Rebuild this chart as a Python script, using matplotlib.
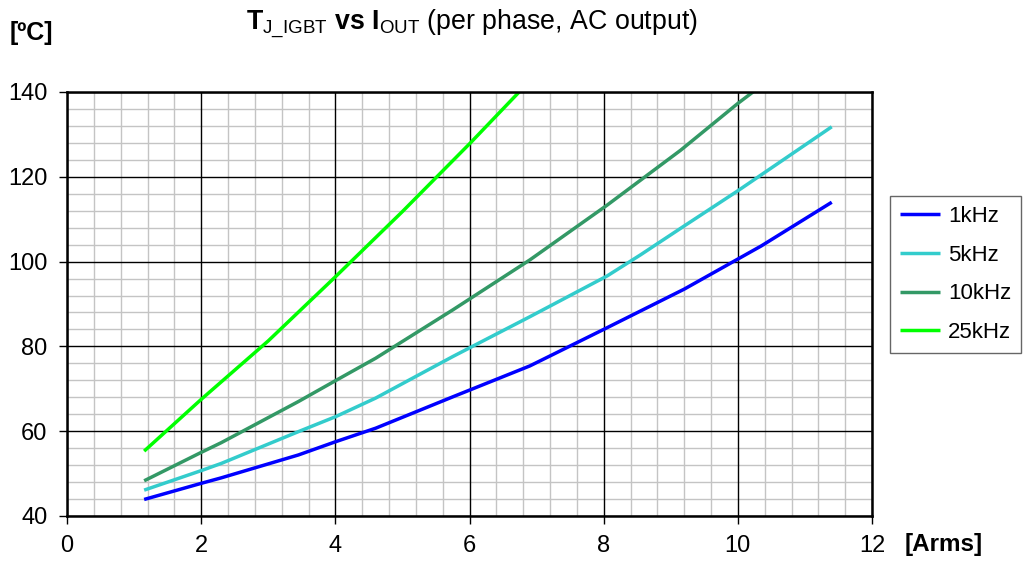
import matplotlib
matplotlib.use("Agg")
import matplotlib.pyplot as plt
from matplotlib.ticker import MultipleLocator

plt.rcParams['font.family'] = ['Liberation Sans', 'DejaVu Sans']
plt.rcParams['mathtext.fontset'] = 'custom'
plt.rcParams['mathtext.rm'] = 'Liberation Sans'
plt.rcParams['mathtext.bf'] = 'Liberation Sans:bold'
plt.rcParams['mathtext.it'] = 'Liberation Sans:italic'

# Data
i_1k = [1.15, 2.0, 2.3, 3.45, 4.0, 4.6, 5.75, 6.9, 8.05, 9.2, 10.35, 11.4]
t_1k = [43.9, 47.7, 49.0, 54.4, 57.5, 60.7, 68.1, 75.4, 84.4, 93.5, 103.7, 114.0]

i_5k = [1.15, 2.0, 2.3, 3.45, 4.0, 4.6, 5.75, 6.9, 8.05, 8.55, 9.2, 10.0, 11.4]
t_5k = [46.1, 50.7, 52.4, 59.9, 63.4, 67.8, 77.6, 87.0, 96.6, 101.6, 108.4, 116.7, 131.8]

i_10k = [1.15, 2.0, 2.3, 3.45, 4.0, 4.6, 5.75, 6.9, 8.05, 9.15, 10.0, 10.35]
t_10k = [48.3, 55.0, 57.3, 67.0, 71.9, 77.2, 88.6, 100.4, 113.3, 126.3, 137.3, 141.5]

i_25k = [1.15, 2.0, 3.0, 4.0, 5.0, 6.02, 6.74, 6.9]
t_25k = [55.3, 67.5, 81.3, 96.4, 111.8, 128.1, 140.0, 142.6]

series = [
    ("1kHz", i_1k, t_1k, "#0000FF"),
    ("5kHz", i_5k, t_5k, "#33CCCC"),
    ("10kHz", i_10k, t_10k, "#339966"),
    ("25kHz", i_25k, t_25k, "#00FF00"),
]

x_ticks = [0, 2, 4, 6, 8, 10, 12]
y_ticks = [40, 60, 80, 100, 120, 140]

fig = plt.figure(figsize=(10.24, 5.67), dpi=100)
ax = fig.add_axes([67/1024, 51/567, 805/1024, 424/567])

for label, xs, ys, c in series:
    ax.plot(xs, ys, color=c, lw=2.5, label=label, solid_capstyle='butt', zorder=3)

ax.set_xlim(0, 12)
ax.set_ylim(40, 140)
ax.set_xticks(x_ticks)
ax.set_yticks(y_ticks)
ax.xaxis.set_minor_locator(MultipleLocator(0.4))
ax.yaxis.set_minor_locator(MultipleLocator(4))
ax.set_axisbelow(True)
ax.grid(which='minor', color='#c4c4c4', lw=1.0)
# major grid drawn above the minor grid
for xv in x_ticks:
    ax.axvline(xv, color='#000000', lw=1.0, zorder=1)
for yv in y_ticks:
    ax.axhline(yv, color='#000000', lw=1.0, zorder=1)
ax.tick_params(which='major', direction='out', length=6, width=1, labelsize=17, pad=8, color='black')
ax.tick_params(which='minor', length=0)
for s in ax.spines.values():
    s.set_linewidth(1.8)
    s.set_color('black')
    s.set_zorder(4)

fig.text(10/1024, 1 - 33/567, "[ºC]", fontsize=18, fontweight='bold', ha='left', va='center')
fig.text(905/1024, 1 - 545/567, "[Arms]", fontsize=17.5, fontweight='bold', ha='left', va='center')
fig.text(472/1024, 1 - 24/567,
         r"$\mathbf{T}_{\mathrm{J\_IGBT}}\ \mathbf{vs}\ \mathbf{I}_{\mathrm{OUT}}$ (per phase, AC output)",
         fontsize=19.3, ha='center', va='center')

leg = ax.legend(loc='center left', bbox_to_anchor=(890/1024, 1 - 274.5/567),
                bbox_transform=fig.transFigure, fontsize=16, frameon=True,
                fancybox=False, edgecolor='#404040', handlelength=1.8,
                borderpad=0.45, labelspacing=0.8, handletextpad=0.35, borderaxespad=0)
leg.get_frame().set_linewidth(1.0)

fig.savefig("out.png", dpi=100)
